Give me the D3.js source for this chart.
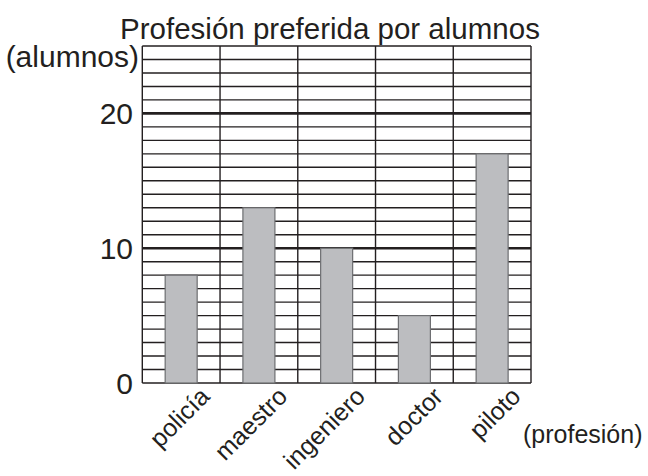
<!DOCTYPE html>
<html>
<head>
<meta charset="utf-8">
<script src="https://cdn.jsdelivr.net/npm/d3@7/dist/d3.min.js"></script>
<style>
  html, body { margin: 0; padding: 0; background: #fff; }
  svg { display: block; }
  text { font-family: "Liberation Sans", Arial, Helvetica, sans-serif; fill: #231f20; }
</style>
</head>
<body>
<svg id="chart" width="648" height="476"></svg>
<script>
const categories = ["policía", "maestro", "ingeniero", "doctor", "piloto"];
const values = [8, 13, 10, 5, 17];
const tickValues = [0, 10, 20];
const yMax = 25;
const title = "Profesión preferida por alumnos";
const yTitle = "(alumnos)";
const xTitle = "(profesión)";

(function () {
const svg = d3.select("#chart");
const pLeft = 142.3, pRight = 531, pTop = 46, pBottom = 383;

const x = d3.scaleBand().domain(categories).range([pLeft, pRight]).padding(0);
const y = d3.scaleLinear().domain([0, yMax]).range([pBottom, pTop]);

// horizontal grid
const grid = svg.append("g");
grid.selectAll("line.h")
  .data(d3.range(0, yMax + 1))
  .join("line")
  .attr("class", "h")
  .attr("x1", pLeft).attr("x2", pRight)
  .attr("y1", d => y(d)).attr("y2", d => y(d))
  .attr("stroke", "#231f20")
  .attr("stroke-width", d => (d === 10 || d === 20) ? 2.6 : 1.4);

// vertical grid
const bounds = categories.map(c => x(c)).concat([pRight]);
grid.selectAll("line.v")
  .data(bounds)
  .join("line")
  .attr("class", "v")
  .attr("x1", d => d).attr("x2", d => d)
  .attr("y1", pTop).attr("y2", pBottom)
  .attr("stroke", "#231f20")
  .attr("stroke-width", 1.4);

// bars
const barW = 32;
svg.append("g").selectAll("rect")
  .data(categories.map((c, i) => ({ c, v: values[i] })))
  .join("rect")
  .attr("x", d => x(d.c) + x.bandwidth() / 2 - barW / 2)
  .attr("y", d => y(d.v))
  .attr("width", barW)
  .attr("height", d => y(0) - y(d.v))
  .attr("fill", "#bcbdc0")
  .attr("stroke", "#6d6e71")
  .attr("stroke-width", 1.2);

// y tick labels
svg.append("g").selectAll("text")
  .data(tickValues)
  .join("text")
  .attr("x", 133)
  .attr("y", d => y(d))
  .attr("dy", "0.36em")
  .attr("text-anchor", "end")
  .attr("font-size", 30)
  .text(d => d);

// x labels
svg.append("g").selectAll("text")
  .data(categories)
  .join("text")
  .attr("text-anchor", "end")
  .attr("font-size", 25)
  .attr("transform", d => `translate(${x(d) + x.bandwidth() / 2 + 30},${398}) rotate(-45)`)
  .text(d => d);

// titles
svg.append("text")
  .attr("x", 330).attr("y", 39)
  .attr("text-anchor", "middle")
  .attr("font-size", 29.5)
  .text(title);

svg.append("text")
  .attr("x", 139).attr("y", 67)
  .attr("text-anchor", "end")
  .attr("font-size", 30)
  .text(yTitle);

svg.append("text")
  .attr("x", 523).attr("y", 443)
  .attr("text-anchor", "start")
  .attr("font-size", 25)
  .text(xTitle);
})();
</script>
</body>
</html>
